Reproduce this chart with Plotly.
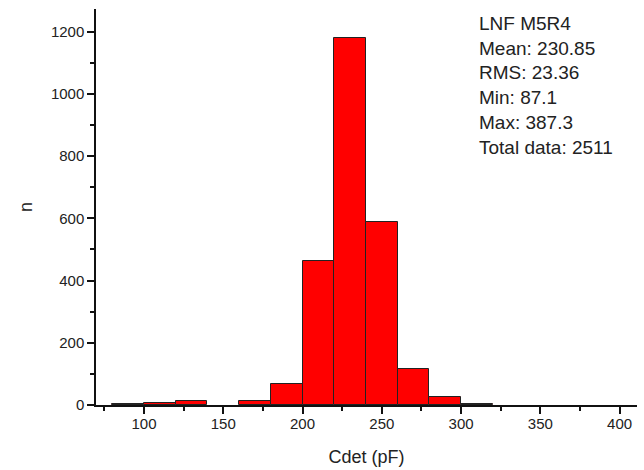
import plotly.graph_objects as go

# Histogram data (bin width 20 pF); empty bins omitted
bin_centers = [90, 110, 130, 170, 190, 210, 230, 250, 270, 290, 310]
counts = [3, 7, 12, 12, 66, 463, 1180, 589, 116, 25, 4]
bin_width = 20

stats_lines = ["LNF M5R4", "Mean: 230.85", "RMS: 23.36", "Min: 87.1", "Max: 387.3", "Total data: 2511"]

FONT = "Arial, Liberation Sans, sans-serif"

fig = go.Figure()
fig.add_trace(go.Bar(
    x=bin_centers, y=counts, width=[bin_width] * len(bin_centers),
    marker=dict(color="#FF0000", line=dict(color="#222222", width=1)),
    showlegend=False,
))

fig.update_layout(
    width=644, height=470,
    margin=dict(l=96, r=7, t=9, b=65),
    paper_bgcolor="white", plot_bgcolor="white",
    font=dict(family=FONT, color="#222222"),
    bargap=0,
    xaxis=dict(
        range=[69.7, 411], tickmode="linear", tick0=100, dtick=50,
        ticks="outside", ticklen=7, tickwidth=1.5, tickcolor="#111111",
        ticklabelstandoff=-3,
        minor=dict(tickmode="linear", tick0=75, dtick=25, ticks="outside", ticklen=4, tickwidth=1.5, tickcolor="#111111"),
        showline=True, linecolor="#111111", linewidth=1.5,
        showgrid=False, zeroline=False,
        tickfont=dict(size=15, family=FONT, color="#222222"),
        title=dict(text="Cdet (pF)", font=dict(size=18, family=FONT, color="#222222"), standoff=20),
    ),
    yaxis=dict(
        range=[0, 1273], tickmode="linear", tick0=0, dtick=200,
        ticks="outside", ticklen=7, tickwidth=1.5, tickcolor="#111111",
        minor=dict(tickmode="linear", tick0=100, dtick=200, ticks="outside", ticklen=4, tickwidth=1.5, tickcolor="#111111"),
        showline=True, linecolor="#111111", linewidth=1.5,
        showgrid=False, zeroline=False,
        tickfont=dict(size=15, family=FONT, color="#222222"),
        title=dict(text="n", font=dict(size=18, family=FONT, color="#222222"), standoff=14),
    ),
)

fig.add_annotation(
    xref="paper", yref="paper", x=0.704, y=0.995, xanchor="left", yanchor="top",
    text="<br>".join(stats_lines), showarrow=False, align="left",
    font=dict(size=19, family=FONT, color="#222222"),
)

fig.write_html("out.html")
